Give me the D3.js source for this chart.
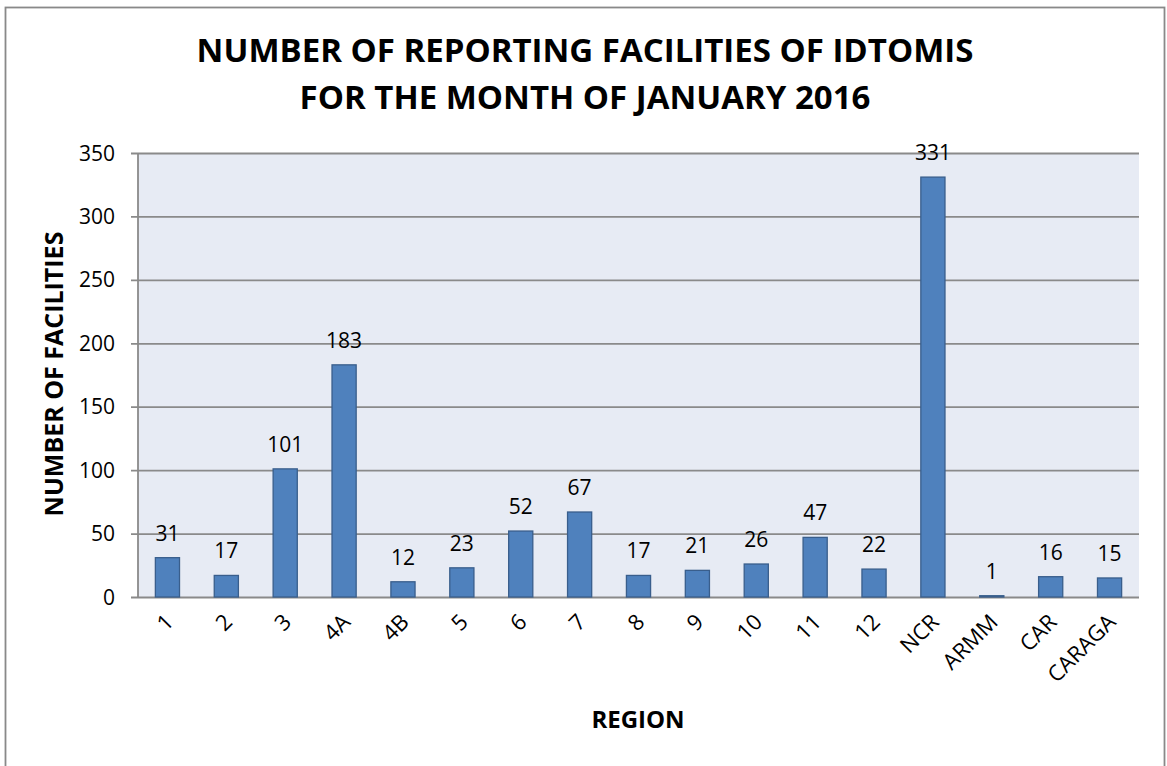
<!DOCTYPE html>
<html>
<head>
<meta charset="utf-8">
<script src="https://cdn.jsdelivr.net/npm/d3@7"></script>
<style>
  body { margin: 0; background: #fff; }
  text { font-family: "Open Sans", sans-serif; fill: #000; }
</style>
</head>
<body>
<div id="chart"></div>
<script>
// data
var regions = ["1", "2", "3", "4A", "4B", "5", "6", "7", "8", "9", "10", "11", "12", "NCR", "ARMM", "CAR", "CARAGA"];
var facilities = [31, 17, 101, 183, 12, 23, 52, 67, 17, 21, 26, 47, 22, 331, 1, 16, 15];
var yTicks = [0, 50, 100, 150, 200, 250, 300, 350];
var titleLines = ["NUMBER OF REPORTING FACILITIES OF IDTOMIS", "FOR THE MONTH OF JANUARY 2016"];

var W = 1167, H = 766;
var margin = { top: 153, right: 28, bottom: 169, left: 138 };
var plotW = W - margin.left - margin.right,
    plotH = H - margin.top - margin.bottom;

var svg = d3.select("#chart").append("svg")
    .attr("width", W)
    .attr("height", H)

// outer chart frame
svg.append("rect")
    .attr("x", 5.5).attr("y", 7.5)
    .attr("width", 1159).attr("height", 770)
    .attr("fill", "#fff")
    .attr("stroke", "#898989")
    .attr("stroke-width", 1.8)

var x = d3.scaleBand()
    .domain(regions)
    .range([0, plotW])
    .paddingInner(0.59)
    .paddingOuter(0.295)

var y = d3.scaleLinear()
    .domain([0, 350])
    .range([plotH, 0])

var g = svg.append("g")
    .attr("transform", "translate(" + margin.left + "," + margin.top + ")")

g.append("rect")
    .attr("width", plotW)
    .attr("height", plotH)
    .attr("fill", "#E7EBF4")

// gridlines + y axis
var yAxis = g.append("g")
    .call(d3.axisLeft(y).tickValues(yTicks).tickSize(-plotW).tickPadding(23).tickSizeOuter(0))
yAxis.select(".domain").remove()
yAxis.selectAll(".tick line")
    .attr("stroke", "#8A8A8A")
    .attr("stroke-width", 1.8)
    .attr("x1", -7)
yAxis.selectAll(".tick text")
    .style("font-size", "21px")
    .attr("dy", "0.34em")

// left axis line
g.append("line")
    .attr("x1", 0).attr("x2", 0)
    .attr("y1", 0).attr("y2", plotH)
    .attr("stroke", "#8A8A8A")
    .attr("stroke-width", 1.8)

// bars
g.selectAll(".bar")
    .data(facilities)
    .enter().append("rect")
    .attr("class", "bar")
    .attr("x", (d, i) => x(regions[i]))
    .attr("y", d => y(d))
    .attr("width", x.bandwidth())
    .attr("height", d => plotH - y(d))
    .attr("fill", "#4F81BD")
    .attr("stroke", "#395E8C")
    .attr("stroke-width", 1.3)

// value labels
g.selectAll(".val")
    .data(facilities)
    .enter().append("text")
    .attr("class", "val")
    .attr("x", (d, i) => x(regions[i]) + x.bandwidth() / 2)
    .attr("y", d => y(d) - 17)
    .attr("text-anchor", "middle")
    .style("font-size", "21px")
    .text(d => d)

// x category labels, rotated
g.selectAll(".cat")
    .data(regions)
    .enter().append("text")
    .attr("class", "cat")
    .attr("text-anchor", "end")
    .style("font-size", "22px")
    .attr("transform", d => "translate(" + (x(d) + x.bandwidth() / 2 + 2) + "," + (plotH + 21) + ") rotate(-45)")
    .attr("dy", "0.35em")
    .text(d => d)

// title
svg.append("g").selectAll("text")
    .data(titleLines)
    .enter().append("text")
    .attr("x", 585)
    .attr("y", (d, i) => 62 + i * 47)
    .attr("text-anchor", "middle")
    .style("font-size", "33px")
    .style("font-weight", "bold")
    .text(d => d)

// axis titles
svg.append("text")
    .attr("transform", "translate(63,374) rotate(-90)")
    .attr("text-anchor", "middle")
    .style("font-size", "25px")
    .style("font-weight", "bold")
    .text("NUMBER OF FACILITIES")

svg.append("text")
    .attr("x", 638)
    .attr("y", 728)
    .attr("text-anchor", "middle")
    .style("font-size", "24px")
    .style("font-weight", "bold")
    .text("REGION")
</script>
</body>
</html>
